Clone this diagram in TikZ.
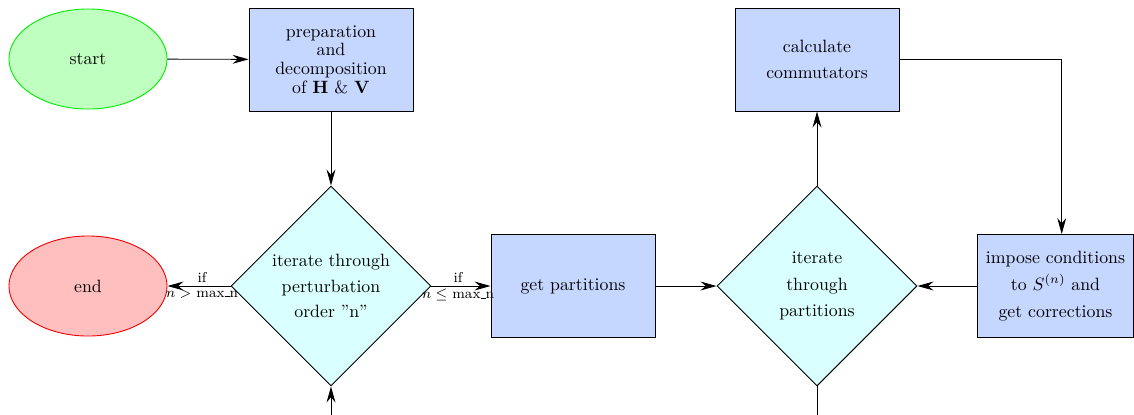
\documentclass[tikz,border=0pt]{standalone}
\usetikzlibrary{shapes.geometric,arrows.meta}

\definecolor{procfill}{RGB}{197,214,255}
\definecolor{decfill}{RGB}{217,255,255}
\definecolor{startfill}{RGB}{191,255,191}
\definecolor{startline}{RGB}{0,235,0}
\definecolor{endfill}{RGB}{255,191,191}
\definecolor{endline}{RGB}{240,0,0}

% a short underscore rule sitting on the baseline
\newcommand{\lowbar}{\leavevmode\kern.06em\vbox{\hrule width.3em}}

\tikzset{
  procbox/.style={rectangle, draw=black, fill=procfill, line width=0.5pt,
    minimum width=92.1pt, minimum height=57.9pt, align=center, inner sep=2pt},
  decbox/.style={diamond, draw=black, fill=decfill, line width=0.5pt,
    minimum width=112.4pt, minimum height=112.4pt, aspect=1, align=center, inner sep=1pt},
  termstart/.style={ellipse, draw=startline, fill=startfill, line width=0.5pt,
    minimum width=88.8pt, minimum height=56.2pt},
  termend/.style={ellipse, draw=endline, fill=endfill, line width=0.5pt,
    minimum width=88.8pt, minimum height=56.2pt},
  flow/.style={-{Stealth[length=9pt,width=5pt,inset=3pt]}, line width=0.5pt},
  plainline/.style={line width=0.5pt},
  cond/.style={font=\footnotesize, inner sep=1.5pt}
}

\begin{document}
\begin{tikzpicture}[x=0.5618pt, y=-0.5618pt]
  \useasboundingbox (0,0) rectangle (1134,414);
  \clip (0,0) rectangle (1134,414);

  % nodes
  \node[termstart] (start) at (88,59) {start};
  \node[procbox] (prep) at (331,59.5)
    {preparation\\[-1.5pt] and\\[-1.5pt] decomposition\\[-1.5pt] of $\mathbf{H}$ \& $\mathbf{V}$};
  \node[decbox] (order) at (331,286)
    {iterate through\\[2.5pt] perturbation\\[2.5pt] order "n"};
  \node[termend] (end) at (88,286) {end};
  \node[procbox] (parts) at (573,286) {get partitions};
  \node[decbox] (iterp) at (817,286)
    {iterate\\[3pt] through\\[3pt] partitions};
  \node[procbox] (comm) at (817,59.5) {calculate\\[3pt] commutators};
  \node[procbox, minimum width=87.6pt] (impose) at (1055.5,286)
    {impose conditions\\[3pt] to $S^{(n)}$ and\\[3pt] get corrections};

  % loop continuations below the visible area
  \coordinate (loopA) at (817,440);
  \coordinate (loopB) at (331,440);

  % connectors
  \draw[flow] (start) -- (prep);
  \draw[flow] (prep) -- (order);
  \draw[flow] (order.west) -- (end.east)
    node[pos=0.45, above, cond] {if}
    node[pos=0.45, below, cond] {$n >$ max\lowbar n};
  \draw[flow] (order.east) -- (parts.west)
    node[pos=0.45, above, cond] {if}
    node[pos=0.45, below, cond] {$n \leq$ max\lowbar n};
  \draw[flow] (parts) -- (iterp.west);
  \draw[flow] (iterp.north) -- (comm.south);
  \draw[flow] (comm.east) -| ([xshift=3.5]impose.north);
  \draw[flow] (impose.west) -- (iterp.east);
  \draw[plainline] (iterp.south) -- (loopA);
  \draw[flow] (loopB) -- (order.south);
\end{tikzpicture}
\end{document}
